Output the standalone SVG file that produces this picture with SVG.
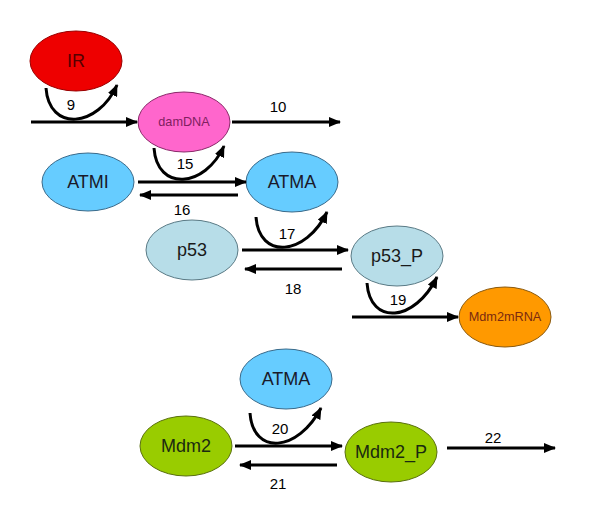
<svg xmlns="http://www.w3.org/2000/svg" width="600" height="521" viewBox="0 0 600 521">
<defs>
<marker id="ah" markerUnits="userSpaceOnUse" markerWidth="12" markerHeight="10" refX="11" refY="5" orient="auto">
<path d="M0,0 L12,5 L0,10 Z" fill="#000"/>
</marker>
<style>
.e{stroke-width:1}
.t{font-family:"Liberation Sans",Arial,sans-serif;text-anchor:middle}
.big{font-size:18px}
.sm{font-size:12.7px}
.n{font-family:"Liberation Sans",Arial,sans-serif;font-size:15px;text-anchor:middle;fill:#000}
.c{fill:none;stroke:#000;stroke-width:3;marker-end:url(#ah)}
</style>
</defs>
<rect width="600" height="521" fill="#fff"/>
<g id="IR"><ellipse class="e" cx="76" cy="61" rx="46" ry="30" fill="#ee0000" stroke="#990000"/><text class="t big" x="76" y="67" fill="#550000">IR</text></g>
<g id="damDNA"><ellipse class="e" cx="184" cy="122" rx="46" ry="30" fill="#ff66cc" stroke="#8a2a6a"/><text class="t sm" x="184" y="126" fill="#802060">damDNA</text></g>
<g id="ATMI"><ellipse class="e" cx="88" cy="182" rx="46" ry="29" fill="#66ccff" stroke="#3a6a8a"/><text class="t big" x="88" y="188" fill="#1a1a2a">ATMI</text></g>
<g id="ATMA1"><ellipse class="e" cx="292" cy="182" rx="46" ry="30" fill="#66ccff" stroke="#3a6a8a"/><text class="t big" x="292" y="188" fill="#1a1a2a">ATMA</text></g>
<g id="p53"><ellipse class="e" cx="192" cy="250" rx="46" ry="30" fill="#b7dde8" stroke="#5a7a85"/><text class="t big" x="192" y="256" fill="#1a1a1a">p53</text></g>
<g id="p53_P"><ellipse class="e" cx="397" cy="256" rx="46" ry="30" fill="#b7dde8" stroke="#5a7a85"/><text class="t big" x="397" y="262" fill="#1a1a1a">p53_P</text></g>
<g id="Mdm2mRNA"><ellipse class="e" cx="505" cy="317" rx="46" ry="30" fill="#ff9900" stroke="#8a5a10"/><text class="t sm" x="505" y="321" fill="#7a2a10">Mdm2mRNA</text></g>
<g id="ATMA2"><ellipse class="e" cx="286" cy="379" rx="46" ry="30" fill="#66ccff" stroke="#3a6a8a"/><text class="t big" x="286" y="385" fill="#1a1a2a">ATMA</text></g>
<g id="Mdm2"><ellipse class="e" cx="186" cy="446" rx="46" ry="30" fill="#99cc00" stroke="#5a7010"/><text class="t big" x="186" y="452" fill="#1a2a10">Mdm2</text></g>
<g id="Mdm2_P"><ellipse class="e" cx="391" cy="452" rx="46" ry="30" fill="#99cc00" stroke="#5a7010"/><text class="t big" x="391" y="458" fill="#1a2a10">Mdm2_P</text></g>
<g id="connectors">
<path class="c" d="M31,122 L137,122"/>
<path class="c" d="M46,88 C49,132 98,128 117,85"/>
<path class="c" d="M232,122 L340,122"/>
<path class="c" d="M154,148 C157,192 205,188 224,146"/>
<path class="c" d="M138,182 L246,182"/>
<path class="c" d="M238,195 L140,195"/>
<path class="c" d="M256,217 C259,260 306,256 327,212"/>
<path class="c" d="M242,250 L348,250"/>
<path class="c" d="M342,269 L245,269"/>
<path class="c" d="M367,283 C370,326 415,322 437,277"/>
<path class="c" d="M352,317 L458,317"/>
<path class="c" d="M250,413 C253,456 298,452 321,408"/>
<path class="c" d="M235,446 L342,446"/>
<path class="c" d="M337,465 L240,465"/>
<path class="c" d="M447,448 L555,448"/>
</g>
<g id="labels">
<text class="n" x="71" y="110">9</text>
<text class="n" x="278" y="112">10</text>
<text class="n" x="185" y="169">15</text>
<text class="n" x="182" y="215">16</text>
<text class="n" x="287" y="239">17</text>
<text class="n" x="293" y="294">18</text>
<text class="n" x="398" y="305">19</text>
<text class="n" x="280" y="434">20</text>
<text class="n" x="278" y="489">21</text>
<text class="n" x="493" y="443">22</text>
</g>
</svg>
